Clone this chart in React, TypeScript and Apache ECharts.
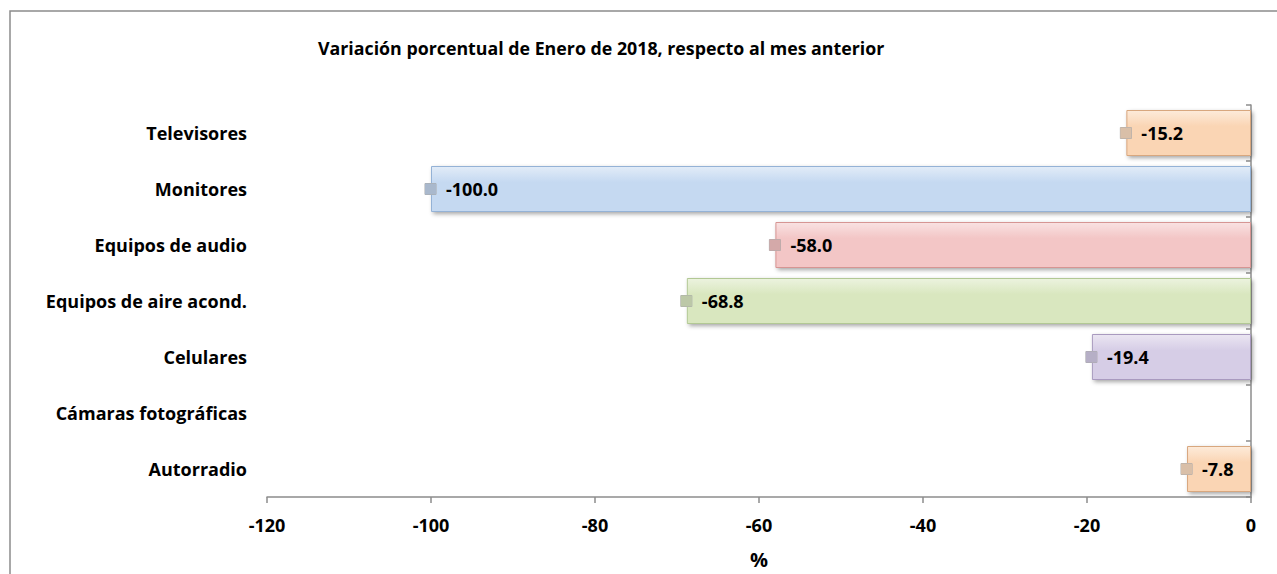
import React, { useEffect, useRef } from "react";
import * as echarts from "echarts";

const titleText = "Variación porcentual de Enero de 2018, respecto al mes anterior";
const categories = [
  "Televisores",
  "Monitores",
  "Equipos de audio",
  "Equipos de aire acond.",
  "Celulares",
  "Cámaras fotográficas",
  "Autorradio",
];
const values: (number | null)[] = [-15.2, -100.0, -58.0, -68.8, -19.4, null, -7.8];
const barColors = ["#FAD5B4", "#C5D9F1", "#F3C6C6", "#D9E7BF", "#D6CDE6", "#B7DEE8", "#FAD5B4"];
const barTops = ["#FDEBDA", "#E2ECF8", "#F9E2E2", "#ECF3DF", "#EBE6F2", "#DBEEF3", "#FDEBDA"];
const barBorders = ["#D8A77E", "#94B2D6", "#D69593", "#B2C894", "#A99ABF", "#8CC3D1", "#D8A77E"];
const keyColors = ["#D9BFA8", "#A9B8CC", "#D4A9A9", "#BCC8A7", "#B6AFC6", "#A0C3CC", "#D9BFA8"];
const xTicks = { min: -120, max: 0, interval: 20 };
const xName = "%";

const FONT = "'Open Sans', sans-serif";

export default function App() {
  const ref = useRef<HTMLDivElement>(null);
  useEffect(() => {
    if (!ref.current) return;
    const chart = echarts.init(ref.current, undefined, { renderer: "svg" });
    const data = values.map((v, i) => ({
      value: v,
      itemStyle: {
        color: new echarts.graphic.LinearGradient(0, 0, 0, 1, [
          { offset: 0, color: barTops[i] },
          { offset: 0.35, color: barColors[i] },
          { offset: 1, color: barColors[i] },
        ]),
        borderColor: barBorders[i],
        borderWidth: 1,
        shadowColor: "rgba(0,0,0,0.35)",
        shadowBlur: 4,
        shadowOffsetX: 2,
        shadowOffsetY: 2,
      },
      label: {
        rich: {
          k: {
            width: 11,
            height: 11,
            backgroundColor: keyColors[i],
            borderColor: "#aaa",
            borderWidth: 0.5,
          },
          v: {
            fontFamily: FONT,
            fontWeight: "bold",
            fontSize: 18,
            color: "#000",
            padding: [0, 0, 0, 10],
          },
        },
      },
    }));
    chart.setOption({
      animation: false,
      backgroundColor: "#fff",
      title: {
        text: titleText,
        left: 313,
        top: 34,
        textStyle: { fontFamily: FONT, fontWeight: "bold", fontSize: 17.8, color: "#000" },
      },
      graphic: [
        {
          type: "rect",
          shape: { x: 10, y: 11, width: 1400, height: 700 },
          style: { fill: "none", stroke: "#8c8c8c", lineWidth: 1.5 },
          silent: true,
        },
      ],
      grid: { left: 267, top: 105, width: 984, height: 395, containLabel: false },
      xAxis: {
        type: "value",
        min: xTicks.min,
        max: xTicks.max,
        interval: xTicks.interval,
        splitLine: { show: false },
        axisLine: { show: true, onZero: false, lineStyle: { color: "#8c8c8c", width: 1.5 } },
        axisTick: { show: true, length: 6, lineStyle: { color: "#8c8c8c", width: 1.5 } },
        axisLabel: {
          margin: 19,
          fontFamily: FONT,
          fontWeight: "bold",
          fontSize: 18,
          color: "#000",
        },
        name: xName,
        nameLocation: "middle",
        nameGap: 52,
        nameTextStyle: { fontFamily: FONT, fontWeight: "bold", fontSize: 20, color: "#000" },
      },
      yAxis: [
        {
          type: "category",
          data: categories,
          inverse: true,
          position: "left",
          axisLine: { show: false },
          axisTick: { show: false },
          axisLabel: {
            margin: 20,
            fontFamily: FONT,
            fontWeight: "bold",
            fontSize: 18,
            color: "#000",
          },
        },
        {
          type: "category",
          data: categories,
          inverse: true,
          position: "right",
          axisLine: { show: true, onZero: false, lineStyle: { color: "#8c8c8c", width: 1.5 } },
          axisTick: { show: true, inside: true, length: 5, lineStyle: { color: "#8c8c8c", width: 1.5 } },
          axisLabel: { show: false },
        },
      ],
      series: [
        {
          type: "bar",
          yAxisIndex: 0,
          barWidth: 46,
          data,
          label: {
            show: true,
            position: "insideLeft",
            offset: [-11, 0],
            formatter: (p: any) => (p.value == null ? "" : `{k|}{v|${p.value.toFixed(1)}}`),
          },
        },
      ],
    });
    return () => chart.dispose();
  }, []);
  return (
    <div
      ref={ref}
      style={{ position: "absolute", left: 0, top: 0, width: 1277, height: 574 }}
    />
  );
}
